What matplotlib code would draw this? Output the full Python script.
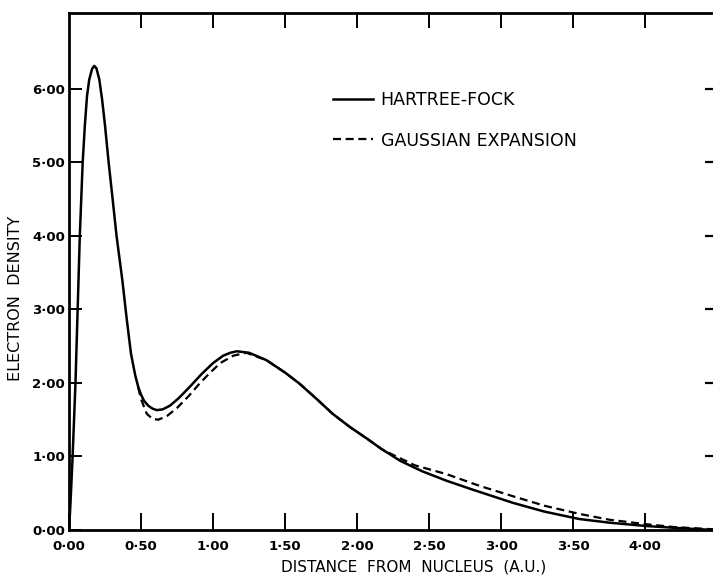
import matplotlib
matplotlib.use("Agg")
import matplotlib.pyplot as plt

# Hartree-Fock curve
hf_r = [0.0, 0.01, 0.025, 0.045, 0.06, 0.075, 0.095, 0.11, 0.125, 0.14, 0.16,
        0.175, 0.19, 0.21, 0.23, 0.25, 0.275, 0.30, 0.33, 0.37, 0.40, 0.43,
        0.46, 0.48, 0.50, 0.52, 0.55, 0.58, 0.61, 0.65, 0.70, 0.76, 0.84,
        0.92, 1.00, 1.07, 1.12, 1.165, 1.25, 1.37, 1.50, 1.60, 1.72, 1.83,
        1.95, 2.07, 2.17, 2.30, 2.45, 2.62, 2.80, 3.08, 3.30, 3.54, 3.75,
        4.00, 4.20, 4.47]
hf_d = [0.0, 0.35, 1.0, 2.0, 3.0, 4.0, 5.0, 5.5, 5.9, 6.12, 6.27,
        6.31, 6.28, 6.13, 5.85, 5.5, 5.0, 4.55, 4.0, 3.4, 2.88, 2.40,
        2.10, 1.95, 1.84, 1.76, 1.69, 1.65, 1.63, 1.64, 1.69, 1.79, 1.95,
        2.12, 2.27, 2.37, 2.41, 2.43, 2.41, 2.31, 2.14, 1.99, 1.78, 1.58,
        1.40, 1.24, 1.10, 0.94, 0.80, 0.67, 0.55, 0.37, 0.25, 0.15, 0.10,
        0.055, 0.03, 0.0]

# Gaussian expansion curve (where it departs from / meets the HF curve)
ge_r = [0.48, 0.50, 0.54, 0.58, 0.62, 0.68, 0.75, 0.83, 0.91, 0.98, 1.05,
        1.14, 1.23, 1.37, 1.50, 1.60, 1.72, 1.83, 1.95, 2.07, 2.17, 2.23,
        2.40, 2.62, 2.85, 3.08, 3.30, 3.54, 3.75, 4.00, 4.20, 4.47]
ge_d = [1.94, 1.78, 1.58, 1.51, 1.50, 1.55, 1.66, 1.82, 2.00, 2.14, 2.27,
        2.37, 2.41, 2.31, 2.14, 1.99, 1.78, 1.58, 1.40, 1.24, 1.10, 1.04,
        0.88, 0.76, 0.60, 0.46, 0.33, 0.22, 0.14, 0.08, 0.04, 0.01]

x_ticks = [0.0, 0.5, 1.0, 1.5, 2.0, 2.5, 3.0, 3.5, 4.0]
x_labels = ["0·00", "0·50", "1·00", "1·50", "2·00", "2·50", "3·00", "3·50", "4·00"]
y_ticks = [0, 1, 2, 3, 4, 5, 6]
y_labels = ["0·00", "1·00", "2·00", "3·00", "4·00", "5·00", "6·00"]

fig = plt.figure(figsize=(7.13, 5.75), dpi=100)
ax = fig.add_axes([69 / 713, 45 / 575, 1 - 69 / 713, (530 - 13) / 575])

ax.plot(hf_r, hf_d, color="black", lw=1.8, label="HARTREE-FOCK")
ax.plot(ge_r, ge_d, color="black", lw=1.6, dashes=(3.6, 2.1),
        label="GAUSSIAN EXPANSION")

ax.set_xlim(0, 4.47)
ax.set_ylim(0, 7.03)

ax.set_xticks(x_ticks)
ax.set_xticklabels(x_labels)
ax.set_yticks(y_ticks)
ax.set_yticklabels(y_labels)
ax.tick_params(axis="x", direction="in", length=12, width=1.4, pad=7,
               labelsize=9.5)
ax.tick_params(axis="y", direction="in", length=9, width=1.4, pad=3,
               labelsize=9.5)
for lab in ax.get_xticklabels() + ax.get_yticklabels():
    lab.set_fontweight("bold")

for s in ["left", "bottom", "top"]:
    ax.spines[s].set_linewidth(2.0)
ax.spines["right"].set_visible(False)

top = ax.secondary_xaxis("top")
top.set_xticks(x_ticks[1:])
top.tick_params(direction="in", length=11, width=1.4, labeltop=False)
top.spines["top"].set_visible(False)

right = ax.secondary_yaxis("right")
right.set_yticks(y_ticks[1:])
right.tick_params(direction="in", length=6, width=1.6, labelright=False)
right.spines["right"].set_visible(False)

ax.set_xlabel("DISTANCE  FROM  NUCLEUS  (A.U.)", fontsize=11)
ax.xaxis.set_label_coords((414 - 69) / 644, -29 / 517)
ax.set_ylabel("ELECTRON  DENSITY", fontsize=11.5)
ax.yaxis.set_label_coords(-46 / 644, (530 - 298) / 517)

ax.legend(loc="upper left", bbox_to_anchor=((333 - 69) / 644, (530 - 91) / 517),
          frameon=False, fontsize=12.5, handlelength=2.3, handletextpad=0.45,
          labelspacing=1.3, borderpad=0, borderaxespad=0)

fig.savefig("out.png", dpi=100)
